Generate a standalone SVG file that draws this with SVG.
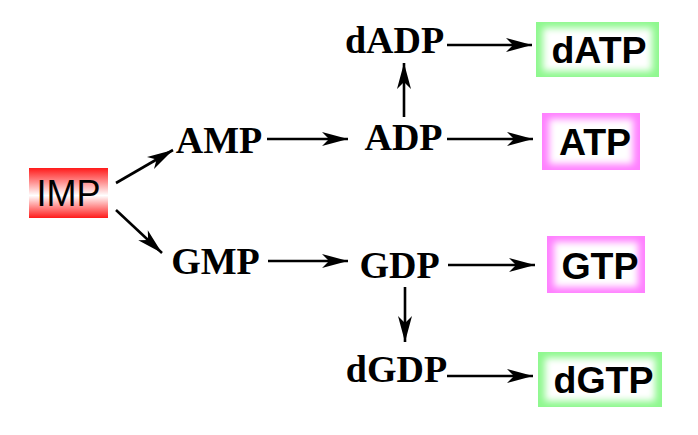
<svg xmlns="http://www.w3.org/2000/svg" width="698" height="435" viewBox="0 0 698 435">
<style>
.lbl{font-family:"Liberation Serif","Times New Roman",serif;font-weight:bold;font-size:38px;fill:#000;text-anchor:middle}
.box{font-family:"Liberation Sans",Arial,sans-serif;font-weight:bold;font-size:37.5px;fill:#000;text-anchor:middle}
.imp{font-family:"Liberation Sans",Arial,sans-serif;font-size:36px;fill:#000;text-anchor:middle}
.edge{stroke:#000;stroke-width:2.6;fill:none;marker-end:url(#ah)}
.glow{fill:#fff;filter:url(#blur)}
</style>
<defs>
<marker id="ah" markerUnits="userSpaceOnUse" viewBox="-27 -8 28 16" refX="0" refY="0" markerWidth="28" markerHeight="16" orient="auto">
<path d="M0,0 L-26,-7 L-19,0 L-26,7 Z" fill="#000"/>
</marker>
<linearGradient id="red" x1="0" y1="0" x2="0" y2="1">
<stop offset="0" stop-color="#ff1a1a"/>
<stop offset="0.55" stop-color="#ffffff"/>
<stop offset="1" stop-color="#ff1a1a"/>
</linearGradient>
<filter id="blur" x="-20%" y="-30%" width="140%" height="160%">
<feGaussianBlur stdDeviation="3.5"/>
</filter>
</defs>
<rect width="698" height="435" fill="#fff"/>
<g id="connectors">
<line class="edge" x1="116" y1="183" x2="173" y2="150"/>
<line class="edge" x1="116" y1="210" x2="162" y2="253"/>
<line class="edge" x1="267" y1="139" x2="348" y2="139"/>
<line class="edge" x1="268" y1="261" x2="348" y2="261"/>
<line class="edge" x1="447" y1="45" x2="532" y2="45"/>
<line class="edge" x1="447" y1="139" x2="533" y2="139"/>
<line class="edge" x1="404" y1="117" x2="404" y2="63"/>
<line class="edge" x1="405" y1="287" x2="405" y2="342"/>
<line class="edge" x1="448" y1="265" x2="535" y2="265"/>
<line class="edge" x1="447" y1="376" x2="533" y2="376"/>
</g>
<g id="IMP">
<rect x="29" y="168" width="79" height="50" fill="url(#red)"/>
<text class="imp" x="68.5" y="206">IMP</text>
</g>
<g id="AMP"><text class="lbl" x="219" y="153">AMP</text></g>
<g id="GMP"><text class="lbl" x="215.5" y="274">GMP</text></g>
<g id="ADP"><text class="lbl" x="403.5" y="150">ADP</text></g>
<g id="dADP"><text class="lbl" x="394.5" y="53">dADP</text></g>
<g id="GDP"><text class="lbl" x="399.5" y="278">GDP</text></g>
<g id="dGDP"><text class="lbl" x="396.5" y="382">dGDP</text></g>
<g id="dATP">
<rect x="536" y="22" width="123" height="55" fill="#8ef88e"/>
<rect class="glow" x="543" y="28" width="109" height="43"/>
<text class="box" x="599" y="63">dATP</text>
</g>
<g id="ATP">
<rect x="542" y="113" width="98" height="57" fill="#ff80ff"/>
<rect class="glow" x="549" y="119" width="84" height="45"/>
<text class="box" x="595" y="155">ATP</text>
</g>
<g id="GTP">
<rect x="547" y="236" width="98" height="57" fill="#ff80ff"/>
<rect class="glow" x="554" y="242" width="84" height="45"/>
<text class="box" x="600" y="279">GTP</text>
</g>
<g id="dGTP">
<rect x="538" y="352" width="124" height="55" fill="#8ef88e"/>
<rect class="glow" x="545" y="358" width="110" height="43"/>
<text class="box" x="603.5" y="393">dGTP</text>
</g>
</svg>
